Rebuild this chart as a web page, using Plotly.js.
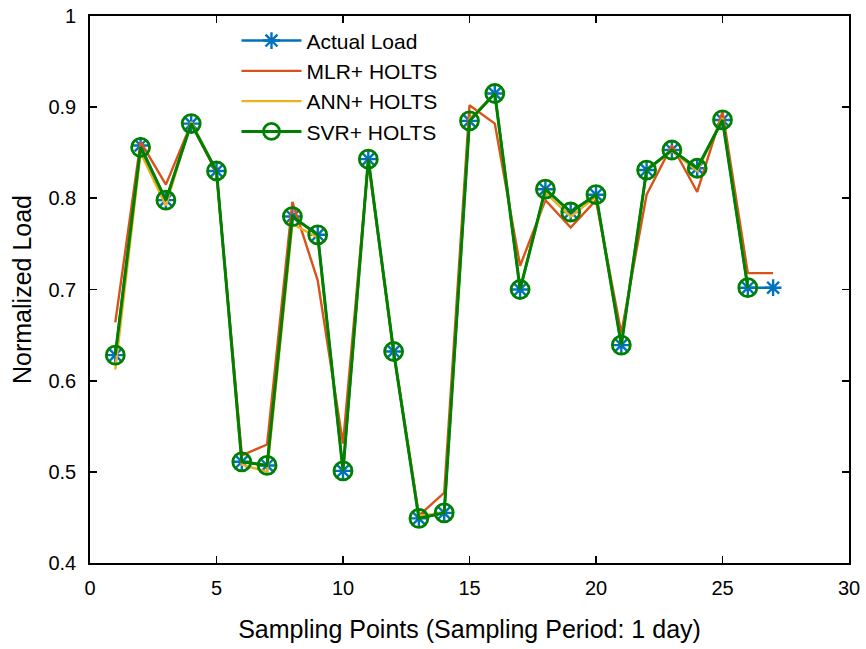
<!DOCTYPE html>
<html>
<head>
<meta charset="utf-8">
<script src="https://cdn.plot.ly/plotly-3.0.1.min.js"></script>
<style>html,body{margin:0;padding:0;background:#fff;}#chart{width:866px;height:649px;}</style>
</head>
<body>
<div id="chart"></div>
<script>
const xActual = [1,2,3,4,5,6,7,8,9,10,11,12,13,14,15,16,17,18,19,20,21,22,23,24,25,26,27];
const actualLoad = [0.628,0.858,0.798,0.882,0.830,0.511,0.507,0.780,0.760,0.501,0.843,0.632,0.449,0.455,0.885,0.915,0.700,0.810,0.785,0.804,0.639,0.831,0.853,0.833,0.886,0.702,0.702];
const xForecast = [1,2,3,4,5,6,7,8,9,10,11,12,13,14,15,16,17,18,19,20,21,22,23,24,25,26,27];
const mlrHolts = [0.664,0.862,0.815,0.882,0.828,0.518,0.530,0.796,0.710,0.531,0.840,0.632,0.452,0.477,0.902,0.882,0.726,0.798,0.768,0.798,0.652,0.804,0.858,0.807,0.895,0.718,0.718];
const annHolts = [0.612,0.850,0.792,0.884,0.830,0.508,0.500,0.772,0.757,0.501,0.843,0.632,0.452,0.455,0.887,0.915,0.702,0.806,0.780,0.802,0.640,0.831,0.852,0.830,0.888,0.703];
const xSvr = [1,2,3,4,5,6,7,8,9,10,11,12,13,14,15,16,17,18,19,20,21,22,23,24,25,26];
const svrHolts = [0.628,0.856,0.798,0.882,0.830,0.511,0.507,0.780,0.760,0.501,0.843,0.632,0.449,0.455,0.885,0.915,0.700,0.810,0.785,0.804,0.639,0.831,0.853,0.833,0.886,0.702];
const xTicks = [0,5,10,15,20,25,30];
const yTicks = [0.4,0.5,0.6,0.7,0.8,0.9,1];
const yTickText = ['0.4','0.5','0.6','0.7','0.8','0.9','1'];

const font = 'Liberation Sans, Arial, Helvetica, sans-serif';
const traces = [
  {x: xActual, y: actualLoad, name: 'Actual Load', mode: 'lines+markers',
   line: {color: '#0072BD', width: 2.4},
   marker: {symbol: 'asterisk-open', size: 14, line: {color: '#0072BD', width: 2.4}, color: '#0072BD'}},
  {x: xForecast, y: mlrHolts, name: 'MLR+ HOLTS', mode: 'lines',
   line: {color: '#D95319', width: 2.4}},
  {x: xForecast.slice(0, annHolts.length), y: annHolts, name: 'ANN+ HOLTS', mode: 'lines',
   line: {color: '#EDB120', width: 2.4}},
  {x: xSvr, y: svrHolts, name: 'SVR+ HOLTS', mode: 'lines+markers',
   line: {color: '#008000', width: 3},
   marker: {symbol: 'circle-open', size: 18, line: {color: '#008000', width: 2.8}, color: '#008000'}}
];

const axisCommon = {
  showgrid: false, zeroline: false, showline: true, linecolor: '#000', linewidth: 1.8,
  mirror: 'ticks', ticks: 'inside', ticklen: 7, tickwidth: 1.8, tickcolor: '#000',
  tickfont: {family: font, size: 20, color: '#000'}
};

const layout = {
  width: 866, height: 649,
  margin: {l: 90, r: 17, t: 16, b: 86},
  paper_bgcolor: '#fff', plot_bgcolor: '#fff',
  font: {family: font, color: '#000'},
  showlegend: true,
  legend: {x: 0.193, y: 0.992, xanchor: 'left', yanchor: 'top', bgcolor: 'rgba(255,255,255,0)',
           font: {family: font, size: 21, color: '#000'}, tracegroupgap: 0, itemwidth: 60},
  xaxis: Object.assign({}, axisCommon, {range: [0, 30], tickvals: xTicks, ticktext: xTicks.map(String),
    ticklabelstandoff: 6,
    title: {text: 'Sampling Points (Sampling Period: 1 day)', font: {family: font, size: 25, color: '#000'}, standoff: 23}}),
  yaxis: Object.assign({}, axisCommon, {range: [0.4, 1], tickvals: yTicks, ticktext: yTickText,
    ticklabelstandoff: 8,
    title: {text: 'Normalized Load', font: {family: font, size: 25, color: '#000'}, standoff: 10}})
};

Plotly.newPlot('chart', traces, layout, {displayModeBar: false, staticPlot: true});
</script>
</body>
</html>
